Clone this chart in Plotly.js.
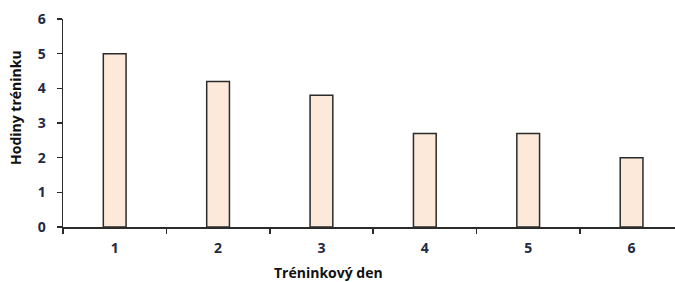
<!DOCTYPE html>
<html>
<head>
<meta charset="utf-8">
<script src="https://cdn.plot.ly/plotly-3.0.1.min.js"></script>
<style>html,body{margin:0;padding:0;background:#fff;}#chart{width:675px;height:282px;}</style>
</head>
<body>
<div id="chart"></div>
<script>
const days = ["1", "2", "3", "4", "5", "6"];
const hours = [5, 4.2, 3.8, 2.7, 2.7, 2];
const yTicks = [0, 1, 2, 3, 4, 5, 6];
const xTitle = "Tréninkový den";
const yTitle = "Hodiny tréninku";

const tickFont = {family: "Open Sans, DejaVu Sans, sans-serif", size: 14, color: "#1f2a44", weight: "bold"};
const titleFont = {family: "Open Sans, DejaVu Sans, sans-serif", size: 14, color: "#111", weight: "bold"};

const data = [{
  type: "bar",
  x: days,
  y: hours,
  width: 0.22,
  marker: {color: "#FDE9D9", line: {color: "#2b2b2b", width: 1.5}},
  hoverinfo: "none"
}];

const layout = {
  width: 675, height: 282,
  margin: {l: 63, r: 0, t: 19, b: 55, pad: 0},
  paper_bgcolor: "#fff", plot_bgcolor: "#fff",
  showlegend: false,
  xaxis: {
    type: "category",
    range: [-0.5, 5.42],
    tickson: "boundaries",
    ticks: "outside", ticklen: 5, tickwidth: 1.5, tickcolor: "#2b2b2b",
    showline: true, linecolor: "#2b2b2b", linewidth: 1.5,
    showgrid: false, zeroline: false,
    tickfont: tickFont,
    ticklabelstandoff: 8
  },
  yaxis: {
    range: [0, 6],
    tickvals: yTicks,
    ticks: "outside", ticklen: 5, tickwidth: 1.5, tickcolor: "#2b2b2b",
    showline: true, linecolor: "#2b2b2b", linewidth: 1.5,
    showgrid: false, zeroline: false,
    tickfont: tickFont,
    ticklabelstandoff: 8
  },
  annotations: [
    {text: xTitle, xref: "paper", yref: "paper", x: 0.4346, y: -0.218,
     xanchor: "center", yanchor: "middle", showarrow: false, font: titleFont},
    {text: yTitle, xref: "paper", yref: "paper", x: -0.0768, y: 0.577,
     xanchor: "center", yanchor: "middle", showarrow: false, textangle: -90, font: titleFont}
  ]
};

Plotly.newPlot("chart", data, layout, {displayModeBar: false, staticPlot: true});
</script>
</body>
</html>
